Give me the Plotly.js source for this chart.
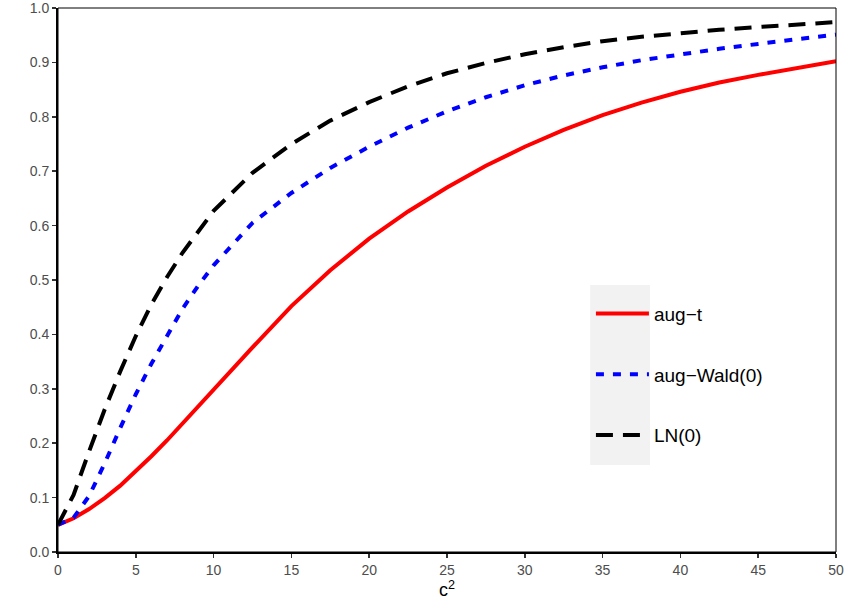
<!DOCTYPE html>
<html>
<head>
<meta charset="utf-8">
<script src="https://cdn.plot.ly/plotly-3.0.1.min.js"></script>
<style>
  html, body { margin: 0; padding: 0; background: #fff; }
  #chart { width: 845px; height: 610px; }
</style>
</head>
<body>
<div id="chart"></div>
<script>
var c2 = [0, 1, 2, 3, 4, 5, 6, 7, 8, 9, 10, 12.5, 15, 17.5, 20, 22.5, 25,
          27.5, 30, 32.5, 35, 37.5, 40, 42.5, 45, 47.5, 50];

// aug-t
var augT = [0.05, 0.062, 0.079, 0.099, 0.122, 0.148, 0.176, 0.205, 0.236, 0.268, 0.30,
            0.376, 0.452, 0.518, 0.576, 0.626, 0.67, 0.71, 0.745, 0.776, 0.803,
            0.826, 0.846, 0.863, 0.877, 0.89, 0.902];

// aug-Wald(0)
var augWald = [0.05, 0.063, 0.103, 0.163, 0.228, 0.29, 0.346, 0.398, 0.447, 0.489, 0.527,
               0.605, 0.66, 0.706, 0.745, 0.78, 0.81, 0.836, 0.858, 0.876, 0.891,
               0.904, 0.915, 0.925, 0.934, 0.943, 0.951];

// LN(0)
var ln0 = [0.05, 0.105, 0.185, 0.262, 0.332, 0.397, 0.455, 0.505, 0.55, 0.59, 0.627,
           0.697, 0.75, 0.793, 0.827, 0.856, 0.88, 0.899, 0.915, 0.928, 0.939,
           0.947, 0.954, 0.96, 0.965, 0.97, 0.974];

var seriesNames = ['aug\u2212t', 'aug\u2212Wald(0)', 'LN(0)'];

var xTicks = [0, 5, 10, 15, 20, 25, 30, 35, 40, 45, 50];
var yTicks = [0, 0.1, 0.2, 0.3, 0.4, 0.5, 0.6, 0.7, 0.8, 0.9, 1.0];

var data = [
    {
        x: c2, y: augT, name: seriesNames[0], legendgroup: 'a',
        type: 'scatter', mode: 'lines',
        line: {color: '#ff0000', width: 4}
    },
    {
        x: c2, y: augWald, name: seriesNames[1], legendgroup: 'b',
        type: 'scatter', mode: 'lines',
        line: {color: '#0000ff', width: 4, dash: '8px,9px'}
    },
    {
        x: c2, y: ln0, name: seriesNames[2], legendgroup: 'c',
        type: 'scatter', mode: 'lines',
        line: {color: '#000000', width: 4, dash: '17px,10px'}
    }
];

var axisCommon = {
    showgrid: false,
    zeroline: false,
    showline: true,
    linecolor: '#000',
    linewidth: 2,
    ticks: 'outside',
    ticklen: 4,
    tickwidth: 1.5,
    tickcolor: '#333',
    ticklabeloverflow: 'allow',
    tickfont: {family: 'Liberation Sans, Arial, sans-serif', size: 14, color: '#4d4d4d'}
};

var layout = {
    width: 845,
    height: 610,
    margin: {l: 58, r: 9, t: 8, b: 58},
    paper_bgcolor: '#fff',
    plot_bgcolor: '#fff',
    font: {family: 'Liberation Sans, Arial, sans-serif', color: '#000'},
    xaxis: Object.assign({}, axisCommon, {
        range: [0, 50],
        tickvals: xTicks,
        ticktext: xTicks.map(String),
        title: {text: 'c<sup>2</sup>', font: {size: 18, color: '#000'}, standoff: 6}
    }),
    yaxis: Object.assign({}, axisCommon, {
        range: [0, 1],
        tickvals: yTicks,
        ticktext: yTicks.map(function (v) { return v.toFixed(1); })
    }),
    shapes: [
        // thin box round the panel
        {type: 'rect', xref: 'paper', yref: 'paper', x0: 0, x1: 1, y0: 0, y1: 1,
         line: {color: '#000', width: 1}, layer: 'above'},
        // grey key background of the legend
        {type: 'rect', xref: 'paper', yref: 'paper', x0: 0.684, x1: 0.761, y0: 0.160, y1: 0.491,
         fillcolor: '#f2f2f2', line: {width: 0}, layer: 'below'}
    ],
    showlegend: true,
    legend: {
        x: 0.685, y: 0.473, xanchor: 'left', yanchor: 'top',
        bgcolor: 'rgba(0,0,0,0)',
        borderwidth: 0,
        itemwidth: 53,
        tracegroupgap: 33,
        font: {size: 19, color: '#000'}
    }
};

Plotly.newPlot('chart', data, layout, {displayModeBar: false, staticPlot: true});
</script>
</body>
</html>
